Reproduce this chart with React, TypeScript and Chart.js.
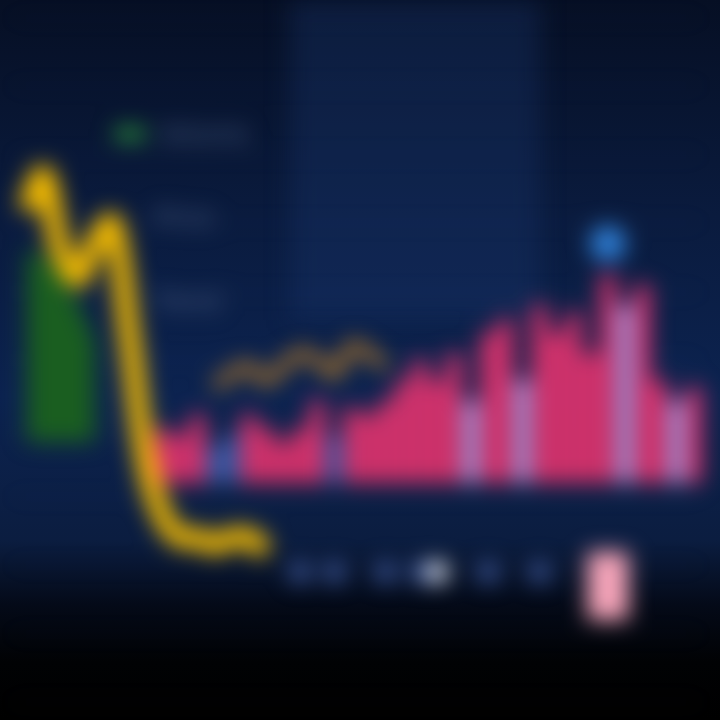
import React, { useEffect, useRef } from "react";
import { Chart, registerables } from "chart.js";

Chart.register(...registerables);

const categories: string[] = Array.from({ length: 40 }, (_, i) => `D${i + 1}`);

// Price line (yellow), left part of the chart
const priceValues: (number | null)[] = [
  72, 77, 66, 62, 67, 70, 54, 35, 27, 24, 24, 23, 24, 24, 22,
  null, null, null, null, null, null, null, null, null, null, null, null, null, null, null,
  null, null, null, null, null, null, null, null, null, null,
];

// Volume area (green)
const volumeValues: (number | null)[] = [
  66, 65, 62, 58, 52, null, null, null, null, null,
  null, null, null, null, null, null, null, null, null, null,
  null, null, null, null, null, null, null, null, null, null,
  null, null, null, null, null, null, null, null, null, null,
];

// Trend line (orange)
const trendValues: (number | null)[] = [
  null, null, null, null, null, null, null, null, null, null,
  null, 46, 48, 49, 47, 49, 51, 50, 48, 52, 51, 49,
  null, null, null, null, null, null, null, null,
  null, null, null, null, null, null, null, null, null, null,
];

// Bar tops (floating bars from a common base)
const barBase = 32;
const barTops: (number | null)[] = [
  null, null, null, null, null, null, null, null,
  40, 39, 42, 37.5, 39, 42, 40, 38, 40, 44, 39, 43,
  42, 44, 47, 50, 47, 51, 44, 54, 56, 47, 58, 54,
  57, 51, 62.5, 58, 61, 47, 44, 46,
];
// bar kind: p = pink, l = lavender, b = blue
const barKinds: string[] = [
  "p", "p", "p", "p", "p", "p", "p", "p",
  "p", "p", "p", "b", "b", "p", "p", "p", "p", "p", "b", "p",
  "p", "p", "p", "p", "p", "p", "l", "p", "p", "l", "p", "p",
  "p", "p", "p", "l", "p", "p", "l", "p",
];

// Peak marker (blue cap)
const peakValues: (number | null)[] = categories.map((_, i) => (i === 34 ? 67 : null));

// Bottom markers
const markerValues: (number | null)[] = categories.map((_, i) =>
  [16, 18, 21, 23, 24, 27, 30].includes(i) ? 19 : null
);
const markerWhite = 24;

// Highlight block (light pink) near bottom
const highlightValues: (any)[] = categories.map((_, i) => (i === 34 ? [12, 22] : null));

const legendLabels = ["Volume", "Price", "Trend"];

export default function App() {
  const ref = useRef<HTMLCanvasElement | null>(null);

  useEffect(() => {
    document.body.style.margin = "0";
    const ctx = ref.current!;
    const kindColor: Record<string, string> = {
      p: "#ee3470",
      l: "#ab9de4",
      b: "#3b5fae",
    };
    const chart = new Chart(ctx, {
      type: "bar",
      data: {
        labels: categories,
        datasets: [
          {
            type: "line",
            label: "Price",
            data: priceValues,
            borderColor: "#f7bd00",
            borderWidth: 20,
            tension: 0.35,
            pointRadius: 0,
            fill: false,
            order: 1,
            spanGaps: false,
          } as any,
          {
            type: "line",
            label: "Volume",
            data: volumeValues,
            borderColor: "#1f7a26",
            backgroundColor: "#1a5e20",
            borderWidth: 2,
            pointRadius: 0,
            fill: { value: 38 },
            order: 6,
          } as any,
          {
            type: "line",
            label: "Trend",
            data: trendValues,
            borderColor: "rgba(214,140,30,0.85)",
            borderWidth: 10,
            tension: 0.4,
            pointRadius: 0,
            fill: false,
            order: 2,
          } as any,
          {
            type: "bar",
            label: "Bars",
            data: barTops.map((t) => (t == null ? null : [barBase, t])) as any,
            backgroundColor: barKinds.map((k) => kindColor[k]),
            grouped: false,
            categoryPercentage: 1,
            barPercentage: 0.85,
            order: 4,
          } as any,
          {
            type: "bar",
            label: "Highlight",
            data: highlightValues,
            backgroundColor: "#f8a6bb",
            grouped: false,
            categoryPercentage: 1,
            barPercentage: 2.4,
            order: 3,
          } as any,
          {
            type: "line",
            label: "Peak",
            data: peakValues,
            showLine: false,
            pointRadius: 18,
            pointBackgroundColor: "#2f7fd6",
            pointBorderWidth: 0,
            order: 0,
          } as any,
          {
            type: "line",
            label: "Markers",
            data: markerValues,
            showLine: false,
            pointRadius: 11,
            pointBackgroundColor: categories.map((_, i) =>
              i === markerWhite ? "#e8ecf6" : "#3b5596"
            ),
            pointBorderWidth: 0,
            order: 0,
          } as any,
        ],
      },
      options: {
        animation: false,
        responsive: true,
        maintainAspectRatio: false,
        layout: { padding: 0 },
        plugins: { legend: { display: false }, tooltip: { enabled: false } },
        scales: {
          x: { display: false, offset: true },
          y: {
            min: 0,
            max: 100,
            display: true,
            ticks: { display: false },
            border: { display: false },
            grid: { color: "rgba(120,140,190,0.12)", lineWidth: 2 },
          },
        },
      },
    });
    return () => chart.destroy();
  }, []);

  return (
    <div
      style={{
        position: "fixed",
        left: 0,
        top: 0,
        width: 720,
        height: 720,
        overflow: "hidden",
        background:
          "linear-gradient(180deg, #060f24 0%, #0a1b3e 30%, #0c2350 55%, #0b1d40 75%, #040a18 84%, #010204 92%, #000 100%)",
      }}
    >
      <div
        style={{
          position: "absolute",
          left: 290,
          top: 0,
          width: 250,
          height: 320,
          background: "rgba(25,55,110,0.35)",
          filter: "blur(12px)",
        }}
      />
      <div
        style={{
          position: "absolute",
          inset: 0,
          filter: "blur(11px)",
        }}
      >
        <canvas ref={ref} width={720} height={720} />
        <div
          style={{
            position: "absolute",
            left: 115,
            top: 92,
            fontFamily: "DejaVu Sans, sans-serif",
            fontSize: 24,
            color: "#4f6387",
          }}
        >
          {legendLabels.map((l, i) => (
            <div
              key={l}
              style={{ display: "flex", alignItems: "center", height: 84, marginLeft: i === 0 ? 0 : 40 }}
            >
              {i === 0 && (
                <span
                  style={{ width: 30, height: 12, background: "#2f9a3a", marginRight: 14, display: "inline-block" }}
                />
              )}
              <span>{l}</span>
            </div>
          ))}
        </div>
      </div>
    </div>
  );
}
